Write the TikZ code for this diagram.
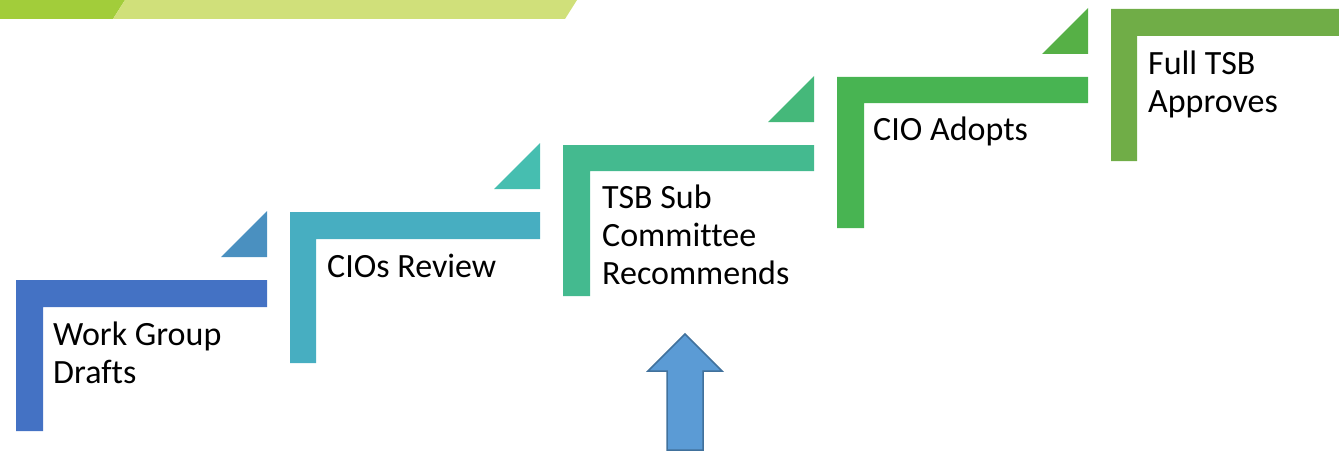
\documentclass[tikz,border=0pt]{standalone}
\usepackage{fontspec}
\setmainfont{Carlito}[Ligatures=NoCommon]
\usepackage{tikz}
\usetikzlibrary{arrows.meta, calc, positioning}
\definecolor{bandgreen}{HTML}{A2CD3A}
\definecolor{bandlight}{HTML}{D0E07A}
\definecolor{stepa}{HTML}{4472C4}
\definecolor{stepb}{HTML}{47AEC1}
\definecolor{stepc}{HTML}{44BA8F}
\definecolor{stepd}{HTML}{48B452}
\definecolor{stepe}{HTML}{70AD47}
\definecolor{tipa}{HTML}{4A90C0}
\definecolor{tipb}{HTML}{46BEB0}
\definecolor{tipc}{HTML}{45B87A}
\definecolor{tipd}{HTML}{56B046}
\definecolor{arrowblue}{HTML}{5B9BD5}
\definecolor{arrowedge}{HTML}{41719C}
\tikzset{
  steplabel/.style={anchor=base west,inner sep=0pt,align=left,
    font=\fontsize{34}{38}\selectfont},
}

\begin{document}
\begin{tikzpicture}[x=1pt,y=-1pt]
    \useasboundingbox (0,0) rectangle (1339,452);
    \fill[bandgreen] (0,0) -- (125,0) -- (113,19) -- (0,19) -- cycle;
    \fill[bandlight] (125,0) -- (577,0) -- (565,19) -- (113,19) -- cycle;
    \fill[stepa] (16,431) -- (16,280) -- (267,280) -- (267,307) -- (43,307) -- (43,431) -- cycle;
    \fill[tipa] (221,257) -- (267,257) -- (267,211) -- cycle;
    \fill[stepb] (290,363) -- (290,212) -- (540,212) -- (540,239) -- (316,239) -- (316,363) -- cycle;
    \fill[tipb] (494,189) -- (540,189) -- (540,143) -- cycle;
    \fill[stepc] (563,296) -- (563,145) -- (814,145) -- (814,171) -- (590,171) -- (590,296) -- cycle;
    \fill[tipc] (768,122) -- (814,122) -- (814,76) -- cycle;
    \fill[stepd] (837,228) -- (837,77) -- (1088,77) -- (1088,103) -- (864,103) -- (864,228) -- cycle;
    \fill[tipd] (1042,54) -- (1088,54) -- (1088,8) -- cycle;
    \fill[stepe] (1111,161) -- (1111,9) -- (1339,9) -- (1339,36) -- (1137,36) -- (1137,161) -- cycle;
    \node[steplabel] (drafts) at (53,383) {Work Group\\Drafts};
    \node[steplabel] (review) at (327,277) {CIOs Review};
    \node[steplabel] (recommends) at (602,284) {TSB Sub\\Committee\\Recommends};
    \node[steplabel] (adopts) at (873,140) {CIO Adopts};
    \node[steplabel] (approves) at (1148,112) {Full TSB\\Approves};
    \filldraw[fill=arrowblue,draw=arrowedge,line width=1.5pt,line join=miter]
      (685,334) -- (722,371) -- (703,371) -- (703,450) -- (667,450) -- (667,371) -- (648,371) -- cycle;
  \end{tikzpicture}
\end{document}
